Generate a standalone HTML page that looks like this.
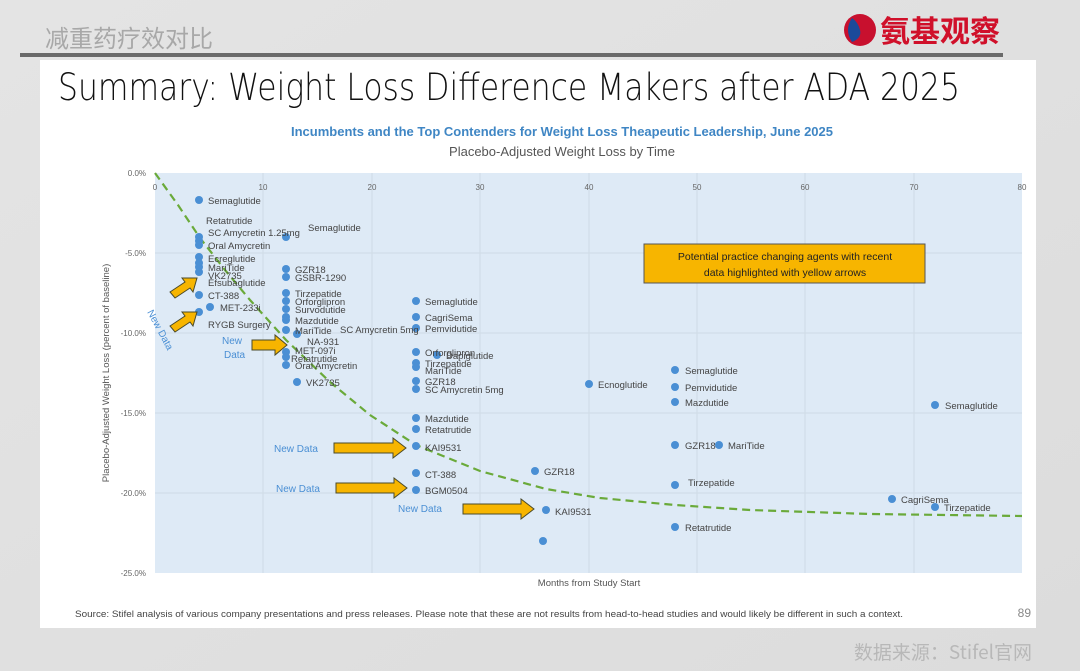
<!DOCTYPE html>
<html><head><meta charset="utf-8"><style>
body{margin:0;width:1080px;height:671px;overflow:hidden;background:#e6e6e6;font-family:"Liberation Sans","Noto Sans CJK SC",sans-serif;}
</style></head><body>
<svg width="1080" height="671" xmlns="http://www.w3.org/2000/svg" style="position:absolute;left:0;top:0">
<defs>
<linearGradient id="bg" x1="0" y1="0" x2="1" y2="1"><stop offset="0" stop-color="#e4e4e4"/><stop offset="1" stop-color="#dcdcdc"/></linearGradient>
</defs>
<rect width="1080" height="671" fill="url(#bg)"/>
<text x="45" y="47" font-size="24" fill="#a8a8a8" font-family="Noto Sans CJK SC,sans-serif">减重药疗效对比</text>
<rect x="20" y="53" width="983" height="4" fill="#6a6a6a"/>
<circle cx="860" cy="30" r="16" fill="#c8102e"/>
<path d="M852 18 q-8 12 0 24 q10 -4 8 -12 q-2 -8 -8 -12z" fill="#1b4a9a"/>
<text x="880" y="42" font-size="30" font-weight="bold" fill="#d0102a" font-family="Noto Sans CJK SC,sans-serif">氨基观察</text>
<rect x="40" y="60" width="996" height="568" fill="#fff"/>
<text x="58" y="100" font-size="37" fill="#111" font-family="DejaVu Sans,sans-serif" textLength="902" lengthAdjust="spacingAndGlyphs" font-weight="300">Summary: Weight Loss Difference Makers after ADA 2025</text>
<text x="562" y="136" font-size="13" font-weight="bold" fill="#3f86c4" text-anchor="middle">Incumbents and the Top Contenders for Weight Loss Theapeutic Leadership, June 2025</text>
<text x="562" y="156" font-size="13" fill="#555" text-anchor="middle">Placebo-Adjusted Weight Loss by Time</text>
<rect x="155" y="173" width="867" height="400" fill="#deeaf6"/>
<g stroke="#cfdbe6" stroke-width="1">
<line x1="263" y1="173" x2="263" y2="573"/><line x1="372" y1="173" x2="372" y2="573"/><line x1="480" y1="173" x2="480" y2="573"/><line x1="589" y1="173" x2="589" y2="573"/><line x1="697" y1="173" x2="697" y2="573"/><line x1="805" y1="173" x2="805" y2="573"/><line x1="914" y1="173" x2="914" y2="573"/>
<line x1="155" y1="253" x2="1022" y2="253"/><line x1="155" y1="333" x2="1022" y2="333"/><line x1="155" y1="413" x2="1022" y2="413"/><line x1="155" y1="493" x2="1022" y2="493"/>
</g>
<g font-size="8" fill="#666">
<text x="146" y="176" text-anchor="end">0.0%</text><text x="146" y="256" text-anchor="end">-5.0%</text><text x="146" y="336" text-anchor="end">-10.0%</text><text x="146" y="416" text-anchor="end">-15.0%</text><text x="146" y="496" text-anchor="end">-20.0%</text><text x="146" y="576" text-anchor="end">-25.0%</text>
<g text-anchor="middle"><text x="155" y="190">0</text><text x="263" y="190">10</text><text x="372" y="190">20</text><text x="480" y="190">30</text><text x="589" y="190">40</text><text x="697" y="190">50</text><text x="805" y="190">60</text><text x="914" y="190">70</text><text x="1022" y="190">80</text></g>
</g>
<text x="589" y="586" font-size="9.5" fill="#555" text-anchor="middle">Months from Study Start</text>
<text transform="translate(109,373) rotate(-90)" font-size="9.5" fill="#555" text-anchor="middle">Placebo-Adjusted Weight Loss (percent of baseline)</text>
<polyline points="155,173 178,205 200,238 225,270 250,300 286,340 330,382 370,415 416,445 480,471 546,489 600,498 675,505 750,510 870,514 1022,516" fill="none" stroke="#6aaa3a" stroke-width="2.2" stroke-dasharray="8,5"/>
<g fill="#4a8fd4">
<circle cx="199" cy="200" r="4"/><circle cx="199" cy="237" r="4"/><circle cx="199" cy="241" r="4"/><circle cx="199" cy="245" r="4"/><circle cx="199" cy="257" r="4"/><circle cx="199" cy="263" r="4"/><circle cx="199" cy="267" r="4"/><circle cx="199" cy="272" r="4"/><circle cx="199" cy="295" r="4"/><circle cx="210" cy="307" r="4"/><circle cx="199" cy="312" r="4"/>
<circle cx="286" cy="237" r="4"/><circle cx="286" cy="269" r="4"/><circle cx="286" cy="277" r="4"/><circle cx="286" cy="293" r="4"/><circle cx="286" cy="301" r="4"/><circle cx="286" cy="309" r="4"/><circle cx="286" cy="317" r="4"/><circle cx="286" cy="320" r="4"/><circle cx="286" cy="330" r="4"/><circle cx="286" cy="352" r="4"/><circle cx="286" cy="357" r="4"/><circle cx="286" cy="365" r="4"/><circle cx="297" cy="334" r="4"/><circle cx="297" cy="382" r="4"/>
<circle cx="416" cy="301" r="4"/><circle cx="416" cy="317" r="4"/><circle cx="416" cy="328" r="4"/><circle cx="416" cy="352" r="4"/><circle cx="437" cy="355" r="4"/><circle cx="416" cy="363" r="4"/><circle cx="416" cy="367" r="4"/><circle cx="416" cy="381" r="4"/><circle cx="416" cy="389" r="4"/><circle cx="416" cy="418" r="4"/><circle cx="416" cy="429" r="4"/><circle cx="416" cy="446" r="4"/><circle cx="416" cy="473" r="4"/><circle cx="416" cy="490" r="4"/>
<circle cx="535" cy="471" r="4"/><circle cx="546" cy="510" r="4"/><circle cx="543" cy="541" r="4"/><circle cx="589" cy="384" r="4"/>
<circle cx="675" cy="370" r="4"/><circle cx="675" cy="387" r="4"/><circle cx="675" cy="402" r="4"/><circle cx="675" cy="445" r="4"/><circle cx="719" cy="445" r="4"/><circle cx="675" cy="485" r="4"/><circle cx="675" cy="527" r="4"/>
<circle cx="892" cy="499" r="4"/><circle cx="935" cy="507" r="4"/><circle cx="935" cy="405" r="4"/>
</g>
<g font-size="9.5" fill="#444">
<text x="208" y="204">Semaglutide</text><text x="206" y="224">Retatrutide</text><text x="208" y="236">SC Amycretin 1.25mg</text><text x="308" y="231">Semaglutide</text><text x="208" y="249">Oral Amycretin</text>
<text x="208" y="262">Ecreglutide</text><text x="208" y="271">MariTide</text><text x="208" y="279">VK2735</text><text x="208" y="286">Efsubaglutide</text><text x="208" y="299">CT-388</text><text x="220" y="311">MET-233i</text><text x="208" y="328">RYGB Surgery</text>
<text x="295" y="273">GZR18</text><text x="295" y="281">GSBR-1290</text><text x="295" y="297">Tirzepatide</text><text x="295" y="305">Orforglipron</text><text x="295" y="313">Survodutide</text><text x="295" y="324">Mazdutide</text><text x="295" y="334">MariTide</text><text x="340" y="333">SC Amycretin 5mg</text><text x="307" y="345">NA-931</text><text x="295" y="354">MET-097i</text><text x="291" y="362">Retatrutide</text><text x="295" y="369">Oral Amycretin</text><text x="306" y="386">VK2735</text>
<text x="425" y="305">Semaglutide</text><text x="425" y="321">CagriSema</text><text x="425" y="332">Pemvidutide</text><text x="425" y="356">Orforglipron</text><text x="446" y="359">Dapiglutide</text><text x="425" y="367">Tirzepatide</text><text x="425" y="374">MariTide</text><text x="425" y="385">GZR18</text><text x="425" y="393">SC Amycretin 5mg</text><text x="425" y="422">Mazdutide</text><text x="425" y="433">Retatrutide</text><text x="425" y="451">KAI9531</text><text x="425" y="478">CT-388</text><text x="425" y="494">BGM0504</text>
<text x="544" y="475">GZR18</text><text x="555" y="515">KAI9531</text><text x="598" y="388">Ecnoglutide</text>
<text x="685" y="374">Semaglutide</text><text x="685" y="391">Pemvidutide</text><text x="685" y="406">Mazdutide</text><text x="685" y="449">GZR18</text><text x="728" y="449">MariTide</text><text x="688" y="486">Tirzepatide</text><text x="685" y="531">Retatrutide</text>
<text x="901" y="503">CagriSema</text><text x="944" y="511">Tirzepatide</text><text x="945" y="409">Semaglutide</text>
</g>
<g font-size="10" fill="#4a8fd4">
<text transform="translate(147,312) rotate(62)">New Data</text>
<text x="222" y="344">New</text><text x="224" y="358">Data</text>
<text x="274" y="452">New Data</text><text x="276" y="492">New Data</text><text x="398" y="512">New Data</text>
</g>
<g fill="#f7b500" stroke="#4a4a2a" stroke-width="1">
<polygon points="170,292 185,282 182,278 197,278 193,292 190,288 175,298"/>
<polygon points="170,326 185,316 182,312 197,312 193,326 190,322 175,332"/>
<polygon points="252,340 275,340 275,335 287,345 275,355 275,350 252,350"/>
<polygon points="334,443 393,443 393,438 406,448 393,458 393,453 334,453"/>
<polygon points="336,483 394,483 394,478 407,488 394,498 394,493 336,493"/>
<polygon points="463,504 521,504 521,499 534,509 521,519 521,514 463,514"/>
</g>
<rect x="644" y="244" width="281" height="39" fill="#f7b500" stroke="#555" stroke-width="1"/>
<text x="785" y="260" font-size="10.5" fill="#222" text-anchor="middle">Potential practice changing agents with recent</text>
<text x="785" y="276" font-size="10.5" fill="#222" text-anchor="middle">data highlighted with yellow arrows</text>
<text x="75" y="617" font-size="9" fill="#444" textLength="828" lengthAdjust="spacingAndGlyphs">Source: Stifel analysis of various company presentations and press releases. Please note that these are not results from head-to-head studies and would likely be different in such a context.</text>
<text x="1031" y="617" font-size="12" fill="#888" text-anchor="end">89</text>
<text x="1032" y="659" font-size="19" fill="#b8b8b8" text-anchor="end" font-family="Noto Sans CJK SC,sans-serif">数据来源：Stifel官网</text>
</svg>
</body></html>
